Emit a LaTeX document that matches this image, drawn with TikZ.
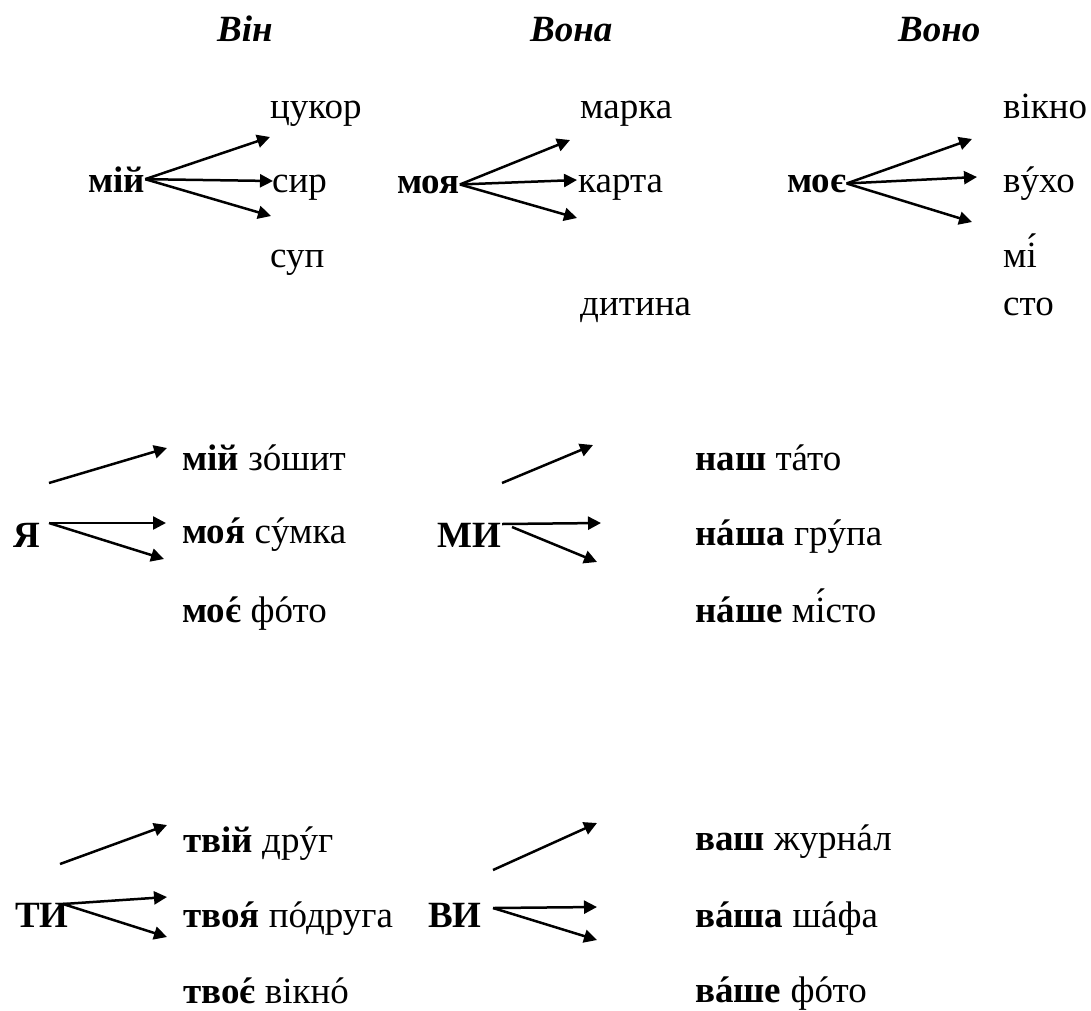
\documentclass[tikz,border=0pt]{standalone}
\usepackage{fontspec}
\setmainfont{LiberationSerif}[Extension=.ttf, UprightFont=*-Regular, BoldFont=*-Bold, ItalicFont=*-Italic, BoldItalicFont=*-BoldItalic]
\usetikzlibrary{arrows.meta}
\newcommand{\stress}[1]{\accent"00B4 #1}

\begin{document}
\begin{tikzpicture}[x=1pt,y=-1pt]

\tikzstyle{word}=[anchor=base west,inner sep=0pt,font=\rmfamily\fontsize{37}{40}\selectfont]
\tikzstyle{head}=[word,font=\rmfamily\fontsize{37}{40}\selectfont\bfseries\itshape]
\tikzstyle{pron}=[word,font=\rmfamily\fontsize{37}{40}\selectfont\bfseries]
\tikzstyle{arr}=[line width=2.5pt,-{Triangle[length=13pt,width=13pt]}]

\useasboundingbox (0,0) rectangle (1091,1010);

% headers
\node[head] (h1) at (217,41) {Він};
\node[head] (h2) at (530,41) {Вона};
\node[head] (h3) at (898,41) {Воно};

% he
\node[pron] (m1) at (88,192) {мій};
\node[word] (a1) at (270,118) {цукор};
\node[word] (a2) at (272,192) {сир};
\node[word] (a3) at (270,267) {суп};
\coordinate (t11) at (270,137);
\coordinate (t12) at (273,181);
\coordinate (t13) at (271,216);
\draw[arr] (m1.east) -- (t11);
\draw[arr] (m1.east) -- (t12);
\draw[arr] (m1.east) -- (t13);

% she
\node[pron] (m2) at (397,193) {моя};
\node[word] (b1) at (580,118) {марка};
\node[word] (b2) at (578,192) {карта};
\node[word] (b3) at (580,315) {дитина};
\coordinate (t21) at (570,140);
\coordinate (t22) at (577,180);
\coordinate (t23) at (577,218);
\draw[arr] (m2.east) -- (t21);
\draw[arr] (m2.east) -- (t22);
\draw[arr] (m2.east) -- (t23);

% it
\node[pron] (m3) at (787,192) {моє};
\node[word] (c1) at (1003,118) {вікно};
\node[word] (c2) at (1003,192) {в\stress{у}хо};
\node[word] (c3) at (1003,267) {м\stress{і}};
\node[word] (c4) at (1003,315) {сто};
\coordinate (t31) at (972,139);
\coordinate (t32) at (977,177);
\coordinate (t33) at (972,222);
\draw[arr] (m3.east) -- (t31);
\draw[arr] (m3.east) -- (t32);
\draw[arr] (m3.east) -- (t33);

% I
\node[pron] (p1) at (13,547) {Я};
\node[word] (d1) at (182,470) {\textbf{мій} з\stress{о}шит};
\node[word] (d2) at (182,543) {\textbf{мо\stress{я}} с\stress{у}мка};
\node[word] (d3) at (182,622) {\textbf{мо\stress{є}} ф\stress{о}то};
\coordinate (s41) at (49,483);
\coordinate (s42) at (49,523);
\coordinate (t41) at (167,448);
\coordinate (t42) at (166,523);
\coordinate (t43) at (164,559);
\draw[arr] (s41) -- (t41);
\draw[arr] (s42) -- (t42);
\draw[arr] (s42) -- (t43);

% we
\node[pron] (p2) at (437,547) {МИ};
\node[word] (e1) at (695,470) {\textbf{наш} т\stress{а}то};
\node[word] (e2) at (695,545) {\textbf{н\stress{а}ша} гр\stress{у}па};
\node[word] (e3) at (695,622) {\textbf{н\stress{а}ше} м\stress{і}сто};
\coordinate (s51) at (502,483);
\coordinate (s52) at (502,524);
\coordinate (s53) at (512,527);
\coordinate (t51) at (593,445);
\coordinate (t52) at (601,523);
\coordinate (t53) at (597,562);
\draw[arr] (s51) -- (t51);
\draw[arr] (s52) -- (t52);
\draw[arr] (s53) -- (t53);

% you
\node[pron] (p3) at (15,927) {ТИ};
\node[word] (f1) at (183,852) {\textbf{твій} др\stress{у}г};
\node[word] (f2) at (183,927) {\textbf{тво\stress{я}} п\stress{о}друга};
\node[word] (f3) at (183,1003) {\textbf{тво\stress{є}} вікн\stress{о}};
\coordinate (s61) at (60,864);
\coordinate (s62) at (63,904);
\coordinate (t61) at (167,825);
\coordinate (t62) at (167,897);
\coordinate (t63) at (167,937);
\draw[arr] (s61) -- (t61);
\draw[arr] (s62) -- (t62);
\draw[arr] (s62) -- (t63);

% you (pl.)
\node[pron] (p4) at (428,927) {ВИ};
\node[word] (g1) at (695,850) {\textbf{ваш} журн\stress{а}л};
\node[word] (g2) at (695,927) {\textbf{в\stress{а}ша} ш\stress{а}фа};
\node[word] (g3) at (695,1002) {\textbf{в\stress{а}ше} ф\stress{о}то};
\coordinate (s71) at (493,870);
\coordinate (s72) at (493,908);
\coordinate (t71) at (597,823);
\coordinate (t72) at (597,907);
\coordinate (t73) at (597,940);
\draw[arr] (s71) -- (t71);
\draw[arr] (s72) -- (t72);
\draw[arr] (s72) -- (t73);

\end{tikzpicture}
\end{document}
